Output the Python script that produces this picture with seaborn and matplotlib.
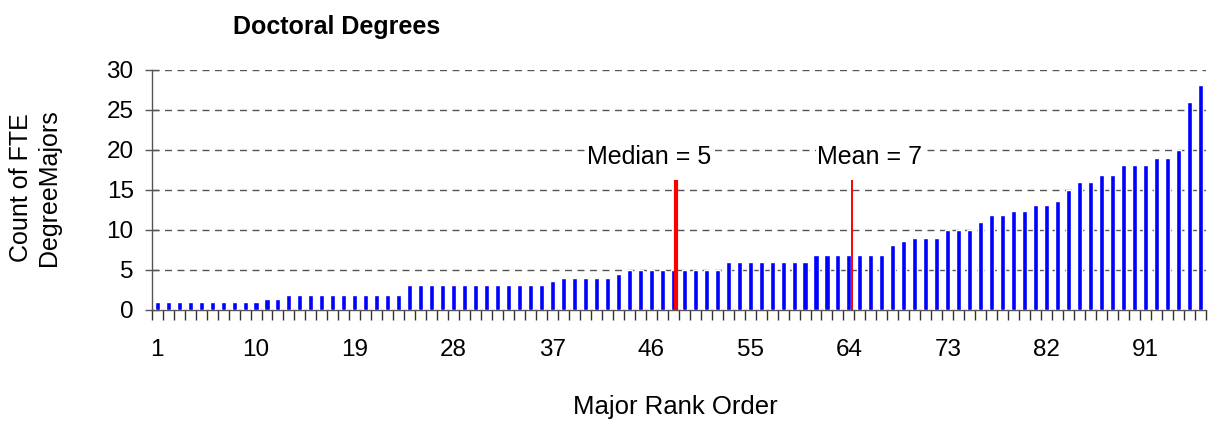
import numpy as np
import pandas as pd
import matplotlib
matplotlib.use("Agg")
import matplotlib.pyplot as plt
import seaborn as sns

# ---- data ----
values = ([1.0] * 10 + [1.4] * 2 + [1.9] * 11 + [3.1] * 13 + [3.6] + [4.0] * 5 + [4.5]
          + [5.0] * 9 + [6.0] * 8 + [6.9] * 7 + [8.1, 8.6] + [9.0] * 3 + [10.0] * 3
          + [11.0] + [11.9] * 2 + [12.4] * 2 + [13.1] * 2 + [13.6] + [15.0] + [16.0] * 2
          + [16.9] * 2 + [18.1] * 3 + [19.0] * 2 + [20.0] + [26.0] + [28.1])
ranks = list(range(1, len(values) + 1))
label_ranks = [1, 10, 19, 28, 37, 46, 55, 64, 73, 82, 91]
median_rank = 48
mean_rank = 64
marker_height = 16.2
median_text = "Median = 5"
mean_text = "Mean = 7"
yticks = [0, 5, 10, 15, 20, 25, 30]

df = pd.DataFrame({"rank": [str(r) for r in ranks], "value": values})

sns.set_style("white")
plt.rcParams["font.family"] = ["Liberation Sans", "DejaVu Sans"]
plt.rcParams["text.color"] = "black"
plt.rcParams["xtick.color"] = "black"
plt.rcParams["ytick.color"] = "black"

W, H = 1211, 421
fig = plt.figure(figsize=(W / 100, H / 100), dpi=100)
ax = fig.add_axes([151.7 / W, 1 - 310 / H, (1205.8 - 151.7) / W, 240 / H])

sns.barplot(data=df, x="rank", y="value", color="#0000FF", saturation=1,
            width=0.46, ax=ax, zorder=3)

ax.set_xlim(-0.5, len(values) - 0.5)
ax.set_ylim(0, 30)

# grid
for v in yticks[1:]:
    ax.axhline(v, color="#555555", lw=1.0, ls=(0, (5, 4)), zorder=1)

# spines
for s in ["top", "right"]:
    ax.spines[s].set_visible(False)
for s in ["left", "bottom"]:
    ax.spines[s].set_color("#555555")
    ax.spines[s].set_linewidth(1.0)

# y ticks
ax.set_yticks(yticks)
ax.set_yticklabels([str(v) for v in yticks], fontsize=17.5)
ax.tick_params(axis="y", left=True, direction="inout", length=10, width=1,
               color="#555555", labelcolor="black", pad=8)

# x ticks: labels at centres, marks at boundaries
ax.set_xticks([r - 1 for r in label_ranks])
ax.set_xticklabels([str(r) for r in label_ranks], fontsize=17.5)
ax.tick_params(axis="x", which="major", bottom=True, length=0, pad=21,
               labelcolor="black")
ax.set_xticks(np.arange(-0.5, len(values), 1.0), minor=True)
ax.tick_params(axis="x", which="minor", bottom=True, direction="out", length=7,
               width=1, color="#333333")

# median / mean markers
ax.vlines(median_rank - 1 + 0.27, 0, marker_height, color="#FF0000", lw=3.0, zorder=4)
ax.vlines(mean_rank - 1 + 0.27, 0, marker_height, color="#FF0000", lw=1.4, zorder=4)
ax.text(median_rank - 1 - 2.2, 19.1, median_text, ha="center", va="center", fontsize=18,
        color="black", zorder=5, bbox=dict(facecolor="white", edgecolor="none", pad=1))
ax.text(mean_rank - 1 + 1.9, 19.1, mean_text, ha="center", va="center", fontsize=18,
        color="black", zorder=5, bbox=dict(facecolor="white", edgecolor="none", pad=1))

ax.set_xlabel("")
ax.set_ylabel("")

fig.text(337 / W, 1 - 27 / H, "Doctoral Degrees", ha="center", va="center",
         fontsize=18, fontweight="bold", color="black")
fig.text(35 / W, 1 - 188 / H, "Count of FTE\nDegreeMajors", ha="center", va="center",
         rotation=90, fontsize=18, linespacing=1.2, color="black")
fig.text(675 / W, 1 - 407 / H, "Major Rank Order", ha="center", va="center",
         fontsize=18.5, color="black")

fig.savefig("out.png", dpi=100, facecolor="white")
